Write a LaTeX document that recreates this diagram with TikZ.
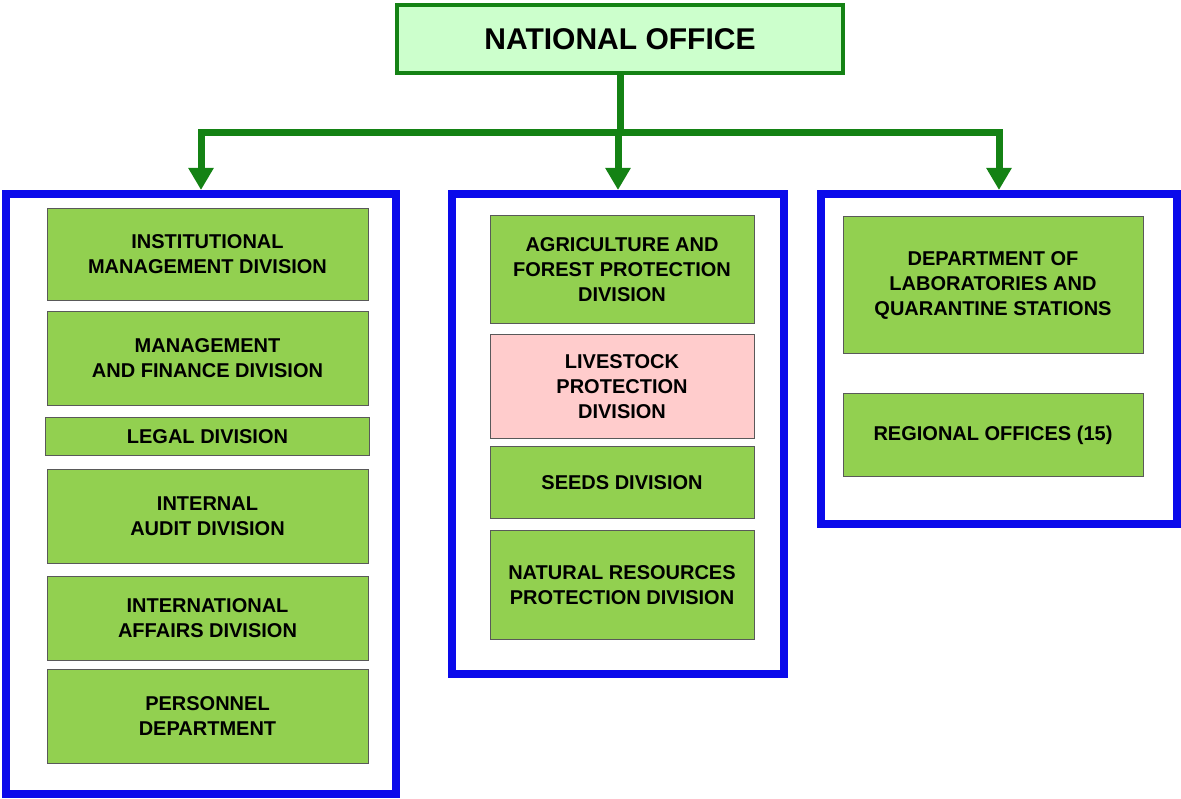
\documentclass[tikz,border=0pt]{standalone}
\usepackage{fontspec}
\setmainfont{Liberation Sans}
\usetikzlibrary{arrows.meta, positioning}

\definecolor{natfill}{RGB}{204,255,204}
\definecolor{linkgreen}{RGB}{20,130,20}
\definecolor{unitgreen}{RGB}{146,208,80}
\definecolor{unitpink}{RGB}{255,204,204}
\definecolor{grpblue}{RGB}{10,10,235}

\begin{document}
\begin{tikzpicture}[x=1pt, y=-1pt,
   font=\bfseries\fontsize{20}{25}\selectfont,
   link/.style  = {draw=linkgreen, line width=7pt},
   group/.style = {draw=grpblue, line width=8pt, fill=white, inner sep=0pt},
   unit/.style  = {draw=black!65, line width=1pt, fill=unitgreen,
                   align=center, inner sep=0pt},
   lunit/.style = {unit, minimum width=321pt},
   cunit/.style = {unit, minimum width=264pt},
   runit/.style = {unit, minimum width=300pt}]
   \useasboundingbox (0,0) rectangle (1181,799);

   \node[draw=linkgreen, line width=4pt, fill=natfill, minimum width=446pt,
         minimum height=68pt, font=\bfseries\fontsize{30}{36}\selectfont]
         (nat) at (620,39) {NATIONAL OFFICE};

   \node[group, minimum width=390pt, minimum height=600pt] (grpL) at (201,494) {};
   \node[group, minimum width=332pt, minimum height=480pt] (grpC) at (618,434) {};
   \node[group, minimum width=356pt, minimum height=330pt] (grpR) at (999,359) {};

   % left column
   \node[lunit, minimum height=92pt, anchor=north] (inst) at (207.5,208)
        {INSTITUTIONAL\\ MANAGEMENT DIVISION};
   \node[lunit, minimum height=94pt, below=10pt of inst] (mgmt)
        {MANAGEMENT\\ AND FINANCE DIVISION};
   \node[unit, minimum width=324pt, minimum height=38pt, below=11pt of mgmt] (legal)
        {LEGAL DIVISION};
   \node[lunit, minimum height=94pt, below=13pt of legal] (audit)
        {INTERNAL\\ AUDIT DIVISION};
   \node[lunit, minimum height=84pt, below=12pt of audit] (intl)
        {INTERNATIONAL\\ AFFAIRS DIVISION};
   \node[lunit, minimum height=94pt, below=8pt of intl] (pers)
        {PERSONNEL\\ DEPARTMENT};

   % centre column
   \node[cunit, minimum height=108pt, anchor=north] (agri) at (622,215)
        {AGRICULTURE AND\\ FOREST PROTECTION\\ DIVISION};
   \node[cunit, fill=unitpink, minimum height=104pt, below=10pt of agri] (live)
        {LIVESTOCK\\ PROTECTION\\ DIVISION};
   \node[cunit, minimum height=72pt, below=7pt of live] (seeds)
        {SEEDS DIVISION};
   \node[cunit, minimum height=109pt, below=11pt of seeds] (natres)
        {NATURAL RESOURCES\\ PROTECTION DIVISION};

   % right column
   \node[runit, minimum height=137pt, anchor=north] (labs) at (993,216)
        {DEPARTMENT OF\\ LABORATORIES AND\\ QUARANTINE STATIONS};
   \node[runit, minimum height=83pt, below=39pt of labs] (reg)
        {REGIONAL OFFICES (15)};

   % connectors
   \coordinate (busY) at (0,133);
   \draw[link, line cap=rect] (grpL.north |- busY) -- (grpR.north |- busY);
   \draw[link] (nat.south) -- (nat.south |- busY);
   \foreach \g in {grpL, grpC, grpR}
      \draw[link, -{Triangle[width=24pt, length=22pt]}] (\g.north |- busY) -- (\g.north);
\end{tikzpicture}
\end{document}
